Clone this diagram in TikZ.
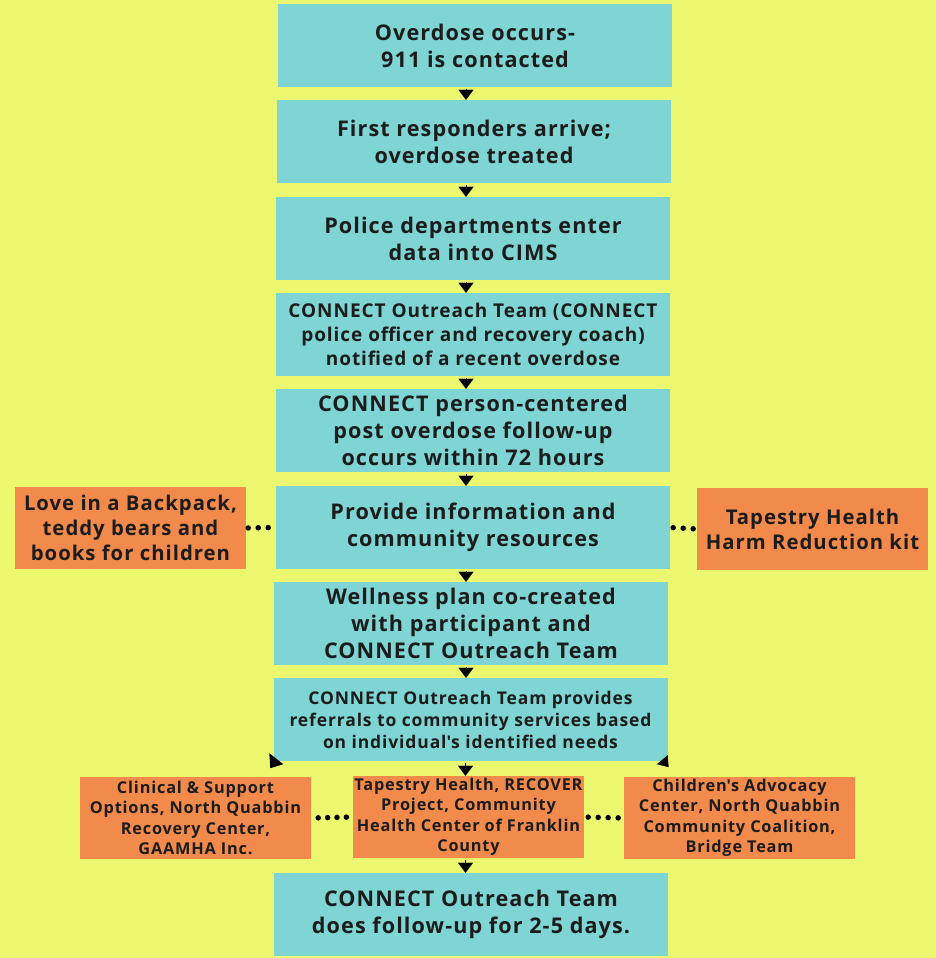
\documentclass[tikz,border=0pt]{standalone}
\usepackage{fontspec}
\setmainfont{Open Sans}[LetterSpace=5]
\usetikzlibrary{
    arrows.meta,
    positioning,
    calc
}
\definecolor{bgyellow}{RGB}{236, 247, 112}
\definecolor{boxcyan}{RGB}{127, 212, 212}
\definecolor{boxorange}{RGB}{242, 138, 76}
\definecolor{inkdark}{RGB}{28, 28, 28}

\begin{document}
\begin{tikzpicture}[
        x=1pt, y=-1pt,
        stepbox/.style={rectangle, fill=boxcyan, minimum width=394pt, minimum height=83pt, inner sep=0pt, align=center, text=inkdark, font=\bfseries\fontsize{21.6}{27}\selectfont},
        sidebox/.style={rectangle, fill=boxorange, minimum width=231pt, minimum height=82pt, inner sep=0pt, align=center, text=inkdark, font=\bfseries\fontsize{20.3}{25}\selectfont},
        smallbox/.style={sidebox, font=\bfseries\fontsize{16.3}{20.5}\selectfont},
        tri/.style={-{Triangle[width=15pt, length=10pt]}, line width=0.1pt, shorten <=2pt},
        dotline/.style={line width=5.5pt, line cap=round, dash pattern=on 0pt off 10pt}
    ]
        % background and page size
        \fill[bgyellow] (0,0) rectangle (936,958);
        \useasboundingbox (0,0) rectangle (936,958);

        % main column
        \node[stepbox] (occur) at (475,45.5) {Overdose occurs-\\911 is contacted};
        \node[stepbox] (arrive) at (474,141.5) {First responders arrive;\\overdose treated};
        \node[stepbox] (cims) at (473,238.5) {Police departments enter\\data into CIMS};
        \node[stepbox, font=\bfseries\fontsize{19}{24}\selectfont] (notify) at (473,334.5) {CONNECT Outreach Team (CONNECT\\police officer and recovery coach)\\notified of a recent overdose};
        \node[stepbox] (follow) at (473,430.5) {CONNECT person-centered\\post overdose follow-up\\occurs within 72 hours};
        \node[stepbox] (info) at (473,527.5) {Provide information and\\community resources};
        \node[stepbox] (plan) at (471,623.5) {Wellness plan co-created\\with participant and\\CONNECT Outreach Team};
        \node[stepbox, font=\bfseries\fontsize{17.5}{22}\selectfont] (refer) at (470.5,719.5) {CONNECT Outreach Team provides\\referrals to community services based\\on individual\textquotesingle s identified needs};
        \node[stepbox] (days) at (471,914.5) {CONNECT Outreach Team\\does follow-up for 2-5 days.};

        % resources beside step 6
        \node[sidebox] (backpack) at (130.5,528) {Love in a Backpack,\\teddy bears and\\books for children};
        \node[sidebox] (kit) at (812.5,529) {Tapestry Health\\Harm Reduction kit};

        % referral services
        \node[smallbox] (clinical) at (195.5,818) {Clinical \& Support\\Options, North Quabbin\\Recovery Center,\\GAAMHA Inc.};
        \node[smallbox] (recover) at (468.5,817) {Tapestry Health, RECOVER\\Project, Community\\Health Center of Franklin\\County};
        \node[smallbox] (advocacy) at (739.5,818) {Children\textquotesingle s Advocacy\\Center, North Quabbin\\Community Coalition,\\Bridge Team};

        % flow arrows
        \draw[tri] ([xshift=-9pt]occur.south) -- ([xshift=-9pt]occur.south |- arrive.north);
        \draw[tri] ([xshift=-8pt]arrive.south) -- ([xshift=-8pt]arrive.south |- cims.north);
        \draw[tri] ([xshift=-7pt]cims.south) -- ([xshift=-7pt]cims.south |- notify.north);
        \draw[tri] ([xshift=-7pt]notify.south) -- ([xshift=-7pt]notify.south |- follow.north);
        \draw[tri] ([xshift=-7pt]follow.south) -- ([xshift=-7pt]follow.south |- info.north);
        \draw[tri] ([xshift=-7pt]info.south) -- ([xshift=-7pt]info.south |- plan.north);
        \draw[tri] ([xshift=-5pt]plan.south) -- ([xshift=-5pt]plan.south |- refer.north);
        \draw[tri] ([xshift=-5pt]refer.south) -- ([xshift=-5pt]refer.south |- recover.north);
        \draw[tri] ([xshift=-3pt]recover.south) -- ([xshift=-3pt]recover.south |- days.north);

        % loose arrow heads at the referral box corners
        \fill[black] ([shift={(-4,-8)}]refer.south west) -- ([shift={(-3,7)}]refer.south west) -- ([shift={(10,3)}]refer.south west) -- cycle;
        \fill[black] ([shift={(0,-6)}]refer.south east) -- ([shift={(-11,3)}]refer.south east) -- ([shift={(1,6)}]refer.south east) -- cycle;

        % dotted links
        \draw[dotline, shorten <=2pt, shorten >=6pt] (backpack.east) -- (info.west);
        \draw[dotline, shorten <=3pt, shorten >=2pt] (info.east) -- (kit.west);
        \draw[dotline, dash pattern=on 0pt off 9.4pt, shorten <=7pt, shorten >=5pt] (clinical.east) -- (recover.west);
        \draw[dotline, shorten <=4pt, shorten >=3pt] (recover.east) -- (advocacy.west);
    \end{tikzpicture}
\end{document}
